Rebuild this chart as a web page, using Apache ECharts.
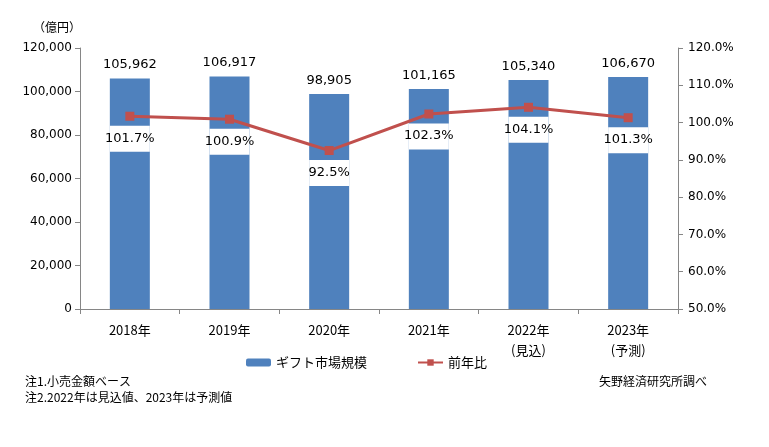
<!DOCTYPE html>
<html>
<head>
<meta charset="UTF-8">
<title>ギフト市場規模推移</title>
<script src="https://cdn.jsdelivr.net/npm/echarts@6/dist/echarts.min.js"></script>
<style>
  body { margin: 0; background: #fff; }
  #main { width: 769px; height: 447px; }
</style>
</head>
<body>
<div id="main"></div>
<script>
// 年次データ
var years = ['2018年', '2019年', '2020年', '2021年', '2022年\n(見込)', '2023年\n(予測)'];
var marketSize = [105962, 106917, 98905, 101165, 105340, 106670];   // 億円
var yoyRate = [101.7, 100.9, 92.5, 102.3, 104.1, 101.3];            // %

var numFont = 'DejaVu Sans, Verdana, sans-serif';
var jpFont = '"Noto Sans CJK JP", sans-serif';

var myChart = echarts.init(document.getElementById('main'));

var option = {
    animation: false,
    backgroundColor: '#fff',
    grid: { left: 80, right: 91, top: 48, bottom: 138 },
    legend: {
        data: ['ギフト市場規模', '前年比'],
        left: 241,
        top: 351,
        itemGap: 50,
        itemWidth: 25,
        itemHeight: 8,
        textStyle: { fontFamily: jpFont, fontSize: 13, color: '#000' }
    },
    graphic: [
        { type: 'text', left: 33, top: 21, style: { text: '（億円）', font: '12px ' + jpFont, fill: '#000' } },
        { type: 'text', left: 25, top: 375, style: { text: '注1.小売金額ベース', font: '12px ' + jpFont, fill: '#000' } },
        { type: 'text', left: 25, top: 391, style: { text: '注2.2022年は見込値、2023年は予測値', font: '12px ' + jpFont, fill: '#000' } },
        { type: 'text', left: 599, top: 375, style: { text: '矢野経済研究所調べ', font: '12px ' + jpFont, fill: '#000' } }
    ],
    xAxis: {
        type: 'category',
        data: years,
        axisLine: { lineStyle: { color: '#868686' } },
        axisTick: { show: true, length: 5, lineStyle: { color: '#868686' } },
        axisLabel: { fontFamily: jpFont, fontSize: 13, color: '#000', margin: 11, lineHeight: 20 }
    },
    yAxis: [
        {
            type: 'value',
            min: 0, max: 120000, interval: 20000,
            splitLine: { show: false },
            axisLine: { show: true, lineStyle: { color: '#868686' } },
            axisTick: { show: true, length: 5, lineStyle: { color: '#868686' } },
            axisLabel: {
                fontFamily: numFont, fontSize: 12, color: '#000', margin: 8,
                formatter: function (v) { return v.toLocaleString('en-US'); }
            }
        },
        {
            type: 'value',
            min: 50, max: 120, interval: 10,
            splitLine: { show: false },
            axisLine: { show: true, lineStyle: { color: '#868686' } },
            axisTick: { show: true, length: 5, lineStyle: { color: '#868686' } },
            axisLabel: {
                fontFamily: numFont, fontSize: 12, color: '#000', margin: 10,
                formatter: function (v) { return v.toFixed(1) + '%'; }
            }
        }
    ],
    series: [
        {
            name: 'ギフト市場規模',
            type: 'bar',
            data: marketSize,
            barWidth: 40,
            itemStyle: { color: '#4F81BD' },
            label: {
                show: true,
                position: 'top',
                distance: 7,
                fontFamily: numFont,
                fontSize: 13,
                color: '#000',
                formatter: function (p) { return p.value.toLocaleString('en-US'); }
            }
        },
        {
            name: '前年比',
            type: 'line',
            yAxisIndex: 1,
            data: yoyRate,
            symbol: 'rect',
            symbolSize: 9,
            z: 5,
            lineStyle: { color: '#C0504D', width: 3 },
            itemStyle: { color: '#C0504D' },
            label: {
                show: true,
                position: 'bottom',
                distance: 5,
                fontFamily: numFont,
                fontSize: 13,
                color: '#000',
                backgroundColor: '#fff',
                padding: [6, 0, 7, 0],
                width: 40,
                align: 'center',
                formatter: function (p) { return p.value.toFixed(1) + '%'; }
            }
        }
    ]
};

myChart.setOption(option);
</script>
</body>
</html>
